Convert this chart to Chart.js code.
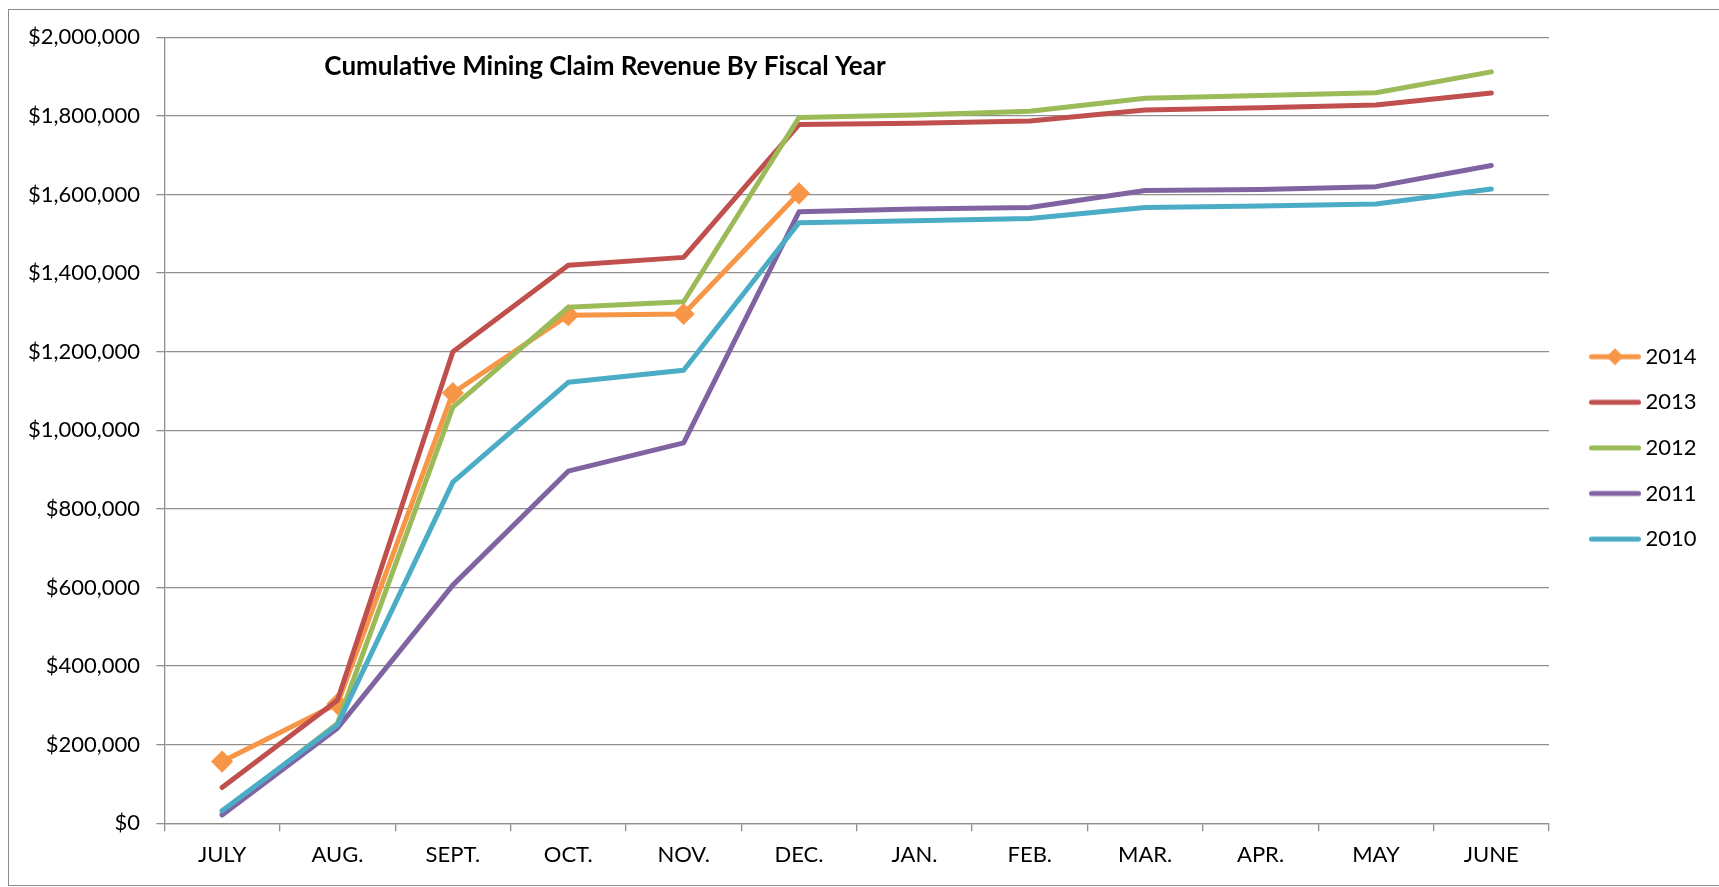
<!DOCTYPE html>
<html><head><meta charset="utf-8">
<script src="https://cdn.jsdelivr.net/npm/chart.js@4.4.1/dist/chart.umd.min.js"></script>
<style>
html,body{margin:0;padding:0;background:#fff;overflow:hidden;}
#frame{position:absolute;left:8px;top:9px;width:1730px;height:877px;border:1.5px solid #8a8a8a;box-sizing:border-box;}
#c{position:absolute;left:0;top:0;}
</style></head><body>
<div id="frame"></div>
<canvas id="c" width="1719" height="887"></canvas>
<script>
const chartTitle = 'Cumulative Mining Claim Revenue By Fiscal Year';
const months = ['JULY','AUG.','SEPT.','OCT.','NOV.','DEC.','JAN.','FEB.','MAR.','APR.','MAY','JUNE'];
const seriesNames = ['2014','2013','2012','2011','2010'];
const fy2014 = [157000, 304000, 1095000, 1293000, 1296000, 1603000, null, null, null, null, null, null];
const fy2013 = [91000, 313000, 1200000, 1420000, 1440000, 1778000, 1781000, 1787000, 1815000, 1821000, 1828000, 1858000];
const fy2012 = [27000, 254000, 1059000, 1313000, 1327000, 1796000, 1802000, 1812000, 1845000, 1852000, 1859000, 1912000];
const fy2011 = [21000, 242000, 606000, 896000, 968000, 1556000, 1563000, 1567000, 1610000, 1613000, 1620000, 1674000];
const fy2010 = [32000, 251000, 868000, 1122000, 1153000, 1528000, 1533000, 1539000, 1567000, 1571000, 1576000, 1614000];
const yTickLabels = ['$0','$200,000','$400,000','$600,000','$800,000','$1,000,000','$1,200,000','$1,400,000','$1,600,000','$1,800,000','$2,000,000'];

const seriesData = [fy2014, fy2013, fy2012, fy2011, fy2010];
const seriesColors = ['#F79646','#C0504D','#9BBB59','#8064A2','#4BACC6'];
const FONT = 'Lato';
const FS = 22;
const gridColor = '#8f8f8f';

// layout targets
const W = 1719, H = 887;
const areaLeft = 164.4, areaRight = 1549, areaTop = 37.3, areaBottom = 823.3;
const legPad = 23.6;
const legBox = 61.9;
const legLineStart = 1589, legLineEnd = 1641;
const padBottom = 10;
const padTop = 8.8 + padBottom;          // keeps the legend column centred where the reference has it
const topGap = areaTop - padTop;         // spacer above the plot area
const xAxisHeight = H - padBottom - areaBottom;

// legend swatch images
function makeSwatch(color, withMarker) {
  const x0 = areaRight + legPad;
  const cx = x0 + legBox / 2;
  const w = Math.ceil(2 * (legLineEnd - cx));
  const cv = document.createElement('canvas');
  cv.width = w; cv.height = 24;
  const g = cv.getContext('2d');
  const left = cx - w / 2;
  g.strokeStyle = color; g.lineWidth = 5; g.lineCap = 'round';
  g.beginPath(); g.moveTo(legLineStart - left + 2.5, 12); g.lineTo(w - 2.5, 12); g.stroke();
  if (withMarker) {
    const mx = (legLineStart + legLineEnd) / 2 - left;
    g.fillStyle = color;
    g.beginPath(); g.moveTo(mx - 8.5, 12); g.lineTo(mx, 3.5); g.lineTo(mx + 8.5, 12); g.lineTo(mx, 20.5); g.closePath(); g.fill();
  }
  return cv;
}
const swatches = seriesColors.map((c, i) => makeSwatch(c, i === 0));

const mctx = document.createElement('canvas').getContext('2d');
mctx.font = `normal ${FS}px ${FONT}`;
const maxText = Math.max(...seriesNames.map(s => mctx.measureText(s).width));
const legendWidth = legPad + legBox + FS / 2 + maxText + 10;
const padRight = W - areaRight - legendWidth;

Chart.defaults.font.family = FONT;
Chart.defaults.font.size = FS;
Chart.defaults.color = '#000';

const titlePlugin = {
  id: 'innerTitle',
  afterDraw(chart) {
    const ctx = chart.ctx;
    ctx.save();
    ctx.font = `bold 26px ${FONT}`;
    ctx.fillStyle = '#000';
    ctx.textAlign = 'center';
    ctx.textBaseline = 'alphabetic';
    ctx.fillText(chartTitle, 605, 75);
    ctx.restore();
  }
};

const spacerPlugin = {
  id: 'topSpacer',
  beforeInit(chart) {
    Chart.layouts.addBox(chart, {
      position: 'top', weight: 0, fullSize: false,
      options: { stackWeight: 1 },
      top: 0, left: 0, right: 0, bottom: 0, width: 0, height: 0,
      update(maxW) { this.width = maxW; this.height = topGap; },
      isHorizontal() { return true; },
      getPadding() { return { top: 0, left: 0, right: 0, bottom: 0 }; },
      draw() {}
    });
  }
};

const datasets = seriesNames.map((name, i) => ({
  label: name,
  data: seriesData[i],
  borderColor: seriesColors[i],
  backgroundColor: seriesColors[i],
  borderWidth: 5,
  borderCapStyle: 'round',
  borderJoinStyle: 'round',
  tension: 0,
  pointStyle: 'rectRot',
  pointRadius: i === 0 ? 10 : 0,
  pointHoverRadius: i === 0 ? 10 : 0,
  pointBorderWidth: 1.5,
  pointBackgroundColor: seriesColors[i],
  pointBorderColor: seriesColors[i],
  order: seriesNames.length - i,
  spanGaps: false
}));

new Chart(document.getElementById('c'), {
  type: 'line',
  data: { labels: months, datasets },
  plugins: [titlePlugin, spacerPlugin],
  options: {
    responsive: false,
    animation: false,
    layout: { padding: { top: padTop, bottom: padBottom, left: 0, right: padRight } },
    scales: {
      x: {
        offset: true,
        grid: { offset: true, drawOnChartArea: false, drawTicks: true, tickLength: 8, color: gridColor, lineWidth: 1.3 },
        border: { display: true, color: gridColor, width: 1.3 },
        ticks: { padding: 10.5, maxRotation: 0, autoSkip: false, font: { size: FS } },
        afterFit(s) { s.height = xAxisHeight; }
      },
      y: {
        min: 0, max: 2000000,
        ticks: { stepSize: 200000, padding: 16.4, font: { size: FS }, callback: (v, i) => yTickLabels[i] },
        grid: { color: gridColor, lineWidth: 1.3, drawTicks: true, tickLength: 8 },
        border: { display: true, color: gridColor, width: 1.3 },
        afterFit(s) { s.width = areaLeft; }
      }
    },
    plugins: {
      tooltip: { enabled: false },
      legend: {
        position: 'right',
        align: 'center',
        labels: {
          usePointStyle: true,
          pointStyleWidth: legBox,
          padding: legPad,
          font: { size: FS },
          color: '#000',
          generateLabels: (chart) => chart.data.datasets.map((ds, i) => ({
            text: ds.label, pointStyle: swatches[i], datasetIndex: i, hidden: false,
            fillStyle: 'transparent', strokeStyle: 'transparent', lineWidth: 0, fontColor: '#000'
          }))
        }
      }
    }
  }
});
</script>
</body></html>
